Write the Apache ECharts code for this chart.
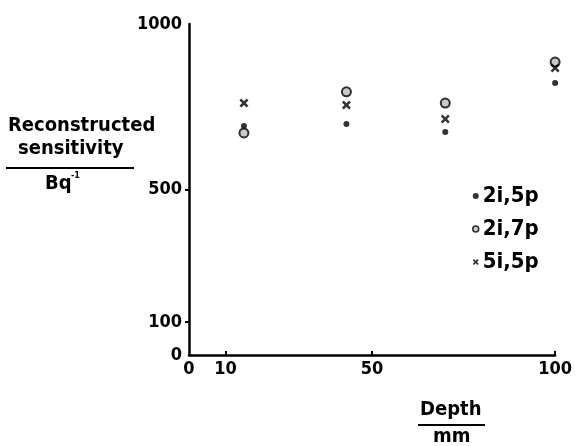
<!DOCTYPE html>
<html><head><meta charset="utf-8">
<script src="https://cdn.jsdelivr.net/npm/echarts@6/dist/echarts.min.js"></script>
<style>html,body{margin:0;padding:0;background:#fff}#c{width:575px;height:446px}</style>
</head><body><div id="c"></div>
<script>
var depths = [15, 43, 70, 100];
var s2i5p = [692, 698, 674, 822];
var s2i7p = [671, 795, 761, 885];
var s5i5p = [761, 755, 713, 867];
var seriesNames = ['2i,5p', '2i,7p', '5i,5p'];
var xTickLabels = [0, 10, 50, 100];
var yTickLabels = [0, 100, 500, 1000];

var FONT = '"DejaVu Sans Condensed", "DejaVu Sans", sans-serif';
var crossPath = 'path://M2,0 L5,3 L8,0 L10,2 L7,5 L10,8 L8,10 L5,7 L2,10 L0,8 L3,5 L0,2 Z';
function pairs(v){ return depths.map(function(d,i){ return [d, v[i]]; }); }
function plain(v){ return String(v); }

var chart = echarts.init(document.getElementById('c'), null, {renderer:'canvas'});
chart.setOption({
  animation:false,
  backgroundColor:'#fff',
  grid:{left:189, right:18, top:24, bottom:91},
  xAxis:{type:'value', min:0, max:100, interval:10,
    axisLine:{onZero:false, lineStyle:{color:'#000', width:2.5}},
    axisTick:{show:true, inside:true, length:4, customValues:[10,50,100], lineStyle:{color:'#000', width:2}},
    axisLabel:{customValues:xTickLabels, formatter:plain, color:'#000', fontFamily:FONT, fontWeight:'bold', fontSize:18, margin:5},
    splitLine:{show:false}},
  yAxis:{type:'value', min:0, max:1000, interval:100,
    axisLine:{show:true, lineStyle:{color:'#000', width:2.5}},
    axisTick:{show:true, length:4, customValues:[100,500], lineStyle:{color:'#000', width:2}},
    axisLabel:{customValues:yTickLabels, formatter:plain, color:'#000', fontFamily:FONT, fontWeight:'bold', fontSize:18, margin:7},
    splitLine:{show:false}},
  legend:{orient:'vertical', left:467, top:180, itemGap:11, itemWidth:6, itemHeight:6,
    textStyle:{color:'#000', fontFamily:FONT, fontWeight:'bold', fontSize:22, padding:[0,0,0,-1]},
    data:[
      {name:seriesNames[0], icon:'circle', itemStyle:{color:'#000'}},
      {name:seriesNames[1], icon:'circle', itemStyle:{color:'#bbb', borderColor:'#000', borderWidth:1.5}},
      {name:seriesNames[2], icon:crossPath, itemStyle:{color:'#000'}}
    ]},
  series:[
    {name:seriesNames[0], type:'scatter', data:pairs(s2i5p), symbol:'circle', symbolSize:6, itemStyle:{color:'#000'}},
    {name:seriesNames[1], type:'scatter', data:pairs(s2i7p), symbol:'circle', symbolSize:9, itemStyle:{color:'#bbb', borderColor:'#000', borderWidth:2}},
    {name:seriesNames[2], type:'scatter', data:pairs(s5i5p), symbol:crossPath, symbolSize:9, itemStyle:{color:'#000'}}
  ],
  graphic:[
    {type:'text', left:8, top:116, style:{text:'Reconstructed', font:'bold 20px '+FONT, fill:'#000'}},
    {type:'text', left:18, top:139, style:{text:'sensitivity', font:'bold 20px '+FONT, fill:'#000'}},
    {type:'line', shape:{x1:6, y1:168, x2:134, y2:168}, style:{stroke:'#000', lineWidth:2}},
    {type:'text', left:45, top:174, style:{text:'Bq', font:'bold 20px '+FONT, fill:'#000'}},
    {type:'text', left:71, top:171, style:{text:'-1', font:'bold 9px '+FONT, fill:'#000'}},
    {type:'text', left:420, top:400, style:{text:'Depth', font:'bold 20px '+FONT, fill:'#000'}},
    {type:'line', shape:{x1:418, y1:425, x2:485, y2:425}, style:{stroke:'#000', lineWidth:2}},
    {type:'text', left:433, top:427, style:{text:'mm', font:'bold 20px '+FONT, fill:'#000'}}
  ]
});
</script></body></html>
